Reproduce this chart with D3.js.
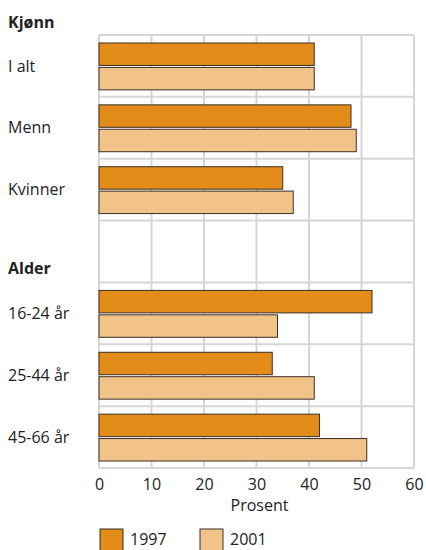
<!DOCTYPE html>
<html><head><meta charset="utf-8">
<script src="https://cdn.jsdelivr.net/npm/d3@7"></script>
<style>body{margin:0;background:#fff}svg{display:block}text{font-family:"Open Sans",sans-serif;fill:#222}</style>
</head><body><svg id="c" width="426" height="550"></svg>
<script>
const categories = ["I alt","Menn","Kvinner","","16-24 år","25-44 år","45-66 år"];
const values1997 = [41,48,35,null,52,33,42];
const values2001 = [41,49,37,null,34,41,51];
const groupLabels = [{label:"Kjønn", pos:-1},{label:"Alder", pos:3}];
const xTicks = [0,10,20,30,40,50,60];
const seriesNames = ["1997","2001"];
const colors = ["#E38C1A","#F2C388"];

const svg = d3.select("#c");
const m = {l:99, r:12, t:35, b:82};
const W = 426, H = 550;
const FS = 16;
const x = d3.scaleLinear().domain([0,60]).range([m.l, W-m.r]);
const y = d3.scaleBand().domain(d3.range(categories.length)).range([m.t, H-m.b]);
const inner = d3.scaleBand().domain([0,1]).range([8, y.bandwidth()-7]).paddingInner(0.08);

const grid = svg.append("g").attr("stroke","#d6d6d6").attr("stroke-width",2);
grid.selectAll("line.v").data(xTicks).join("line")
  .attr("x1",d=>x(d)).attr("x2",d=>x(d)).attr("y1",m.t).attr("y2",H-m.b);
grid.selectAll("line.h").data(d3.range(categories.length+1)).join("line")
  .attr("x1",x(0)).attr("x2",x(60))
  .attr("y1",i=>m.t+i*y.step()).attr("y2",i=>m.t+i*y.step());

const series = [values1997, values2001];
series.forEach((vals,s)=>{
  svg.append("g").selectAll("rect").data(vals.map((v,i)=>({v,i})).filter(d=>d.v!=null)).join("rect")
    .attr("x",x(0)).attr("y",d=>y(d.i)+inner(s))
    .attr("width",d=>x(d.v)-x(0)).attr("height",inner.bandwidth())
    .attr("fill",colors[s]).attr("stroke","#3a3028").attr("stroke-width",1);
});

svg.append("g").selectAll("text").data(categories.map((c,i)=>({c,i})).filter(d=>d.c)).join("text")
  .attr("x",8).attr("y",d=>y(d.i)+y.bandwidth()/2).attr("dy","0.35em")
  .attr("font-size",FS).text(d=>d.c);

svg.append("g").selectAll("text").data(groupLabels).join("text")
  .attr("x",8).attr("y",d=>d.pos<0 ? 22 : y(d.pos)+y.bandwidth()-14).attr("dy","0.35em")
  .attr("font-size",FS).attr("font-weight","bold").text(d=>d.label);

const ax = svg.append("g").attr("transform",`translate(0,${H-m.b})`)
  .call(d3.axisBottom(x).tickValues(xTicks).tickSize(0).tickPadding(11));
ax.select(".domain").remove();
ax.selectAll("text").attr("font-size",FS).attr("font-family","Open Sans").attr("fill","#222");

svg.append("text").attr("x",x(30)+3).attr("y",505).attr("dy","0.35em").attr("text-anchor","middle")
  .attr("font-size",FS).text("Prosent");

const lg = svg.append("g");
seriesNames.forEach((n,i)=>{
  const lx = 100 + i*100;
  lg.append("rect").attr("x",lx).attr("y",529).attr("width",23).attr("height",24)
    .attr("fill",colors[i]).attr("stroke","#3a3028").attr("stroke-width",1);
  lg.append("text").attr("x",lx+30).attr("y",539).attr("dy","0.35em").attr("font-size",FS).text(n);
});
</script></body></html>
